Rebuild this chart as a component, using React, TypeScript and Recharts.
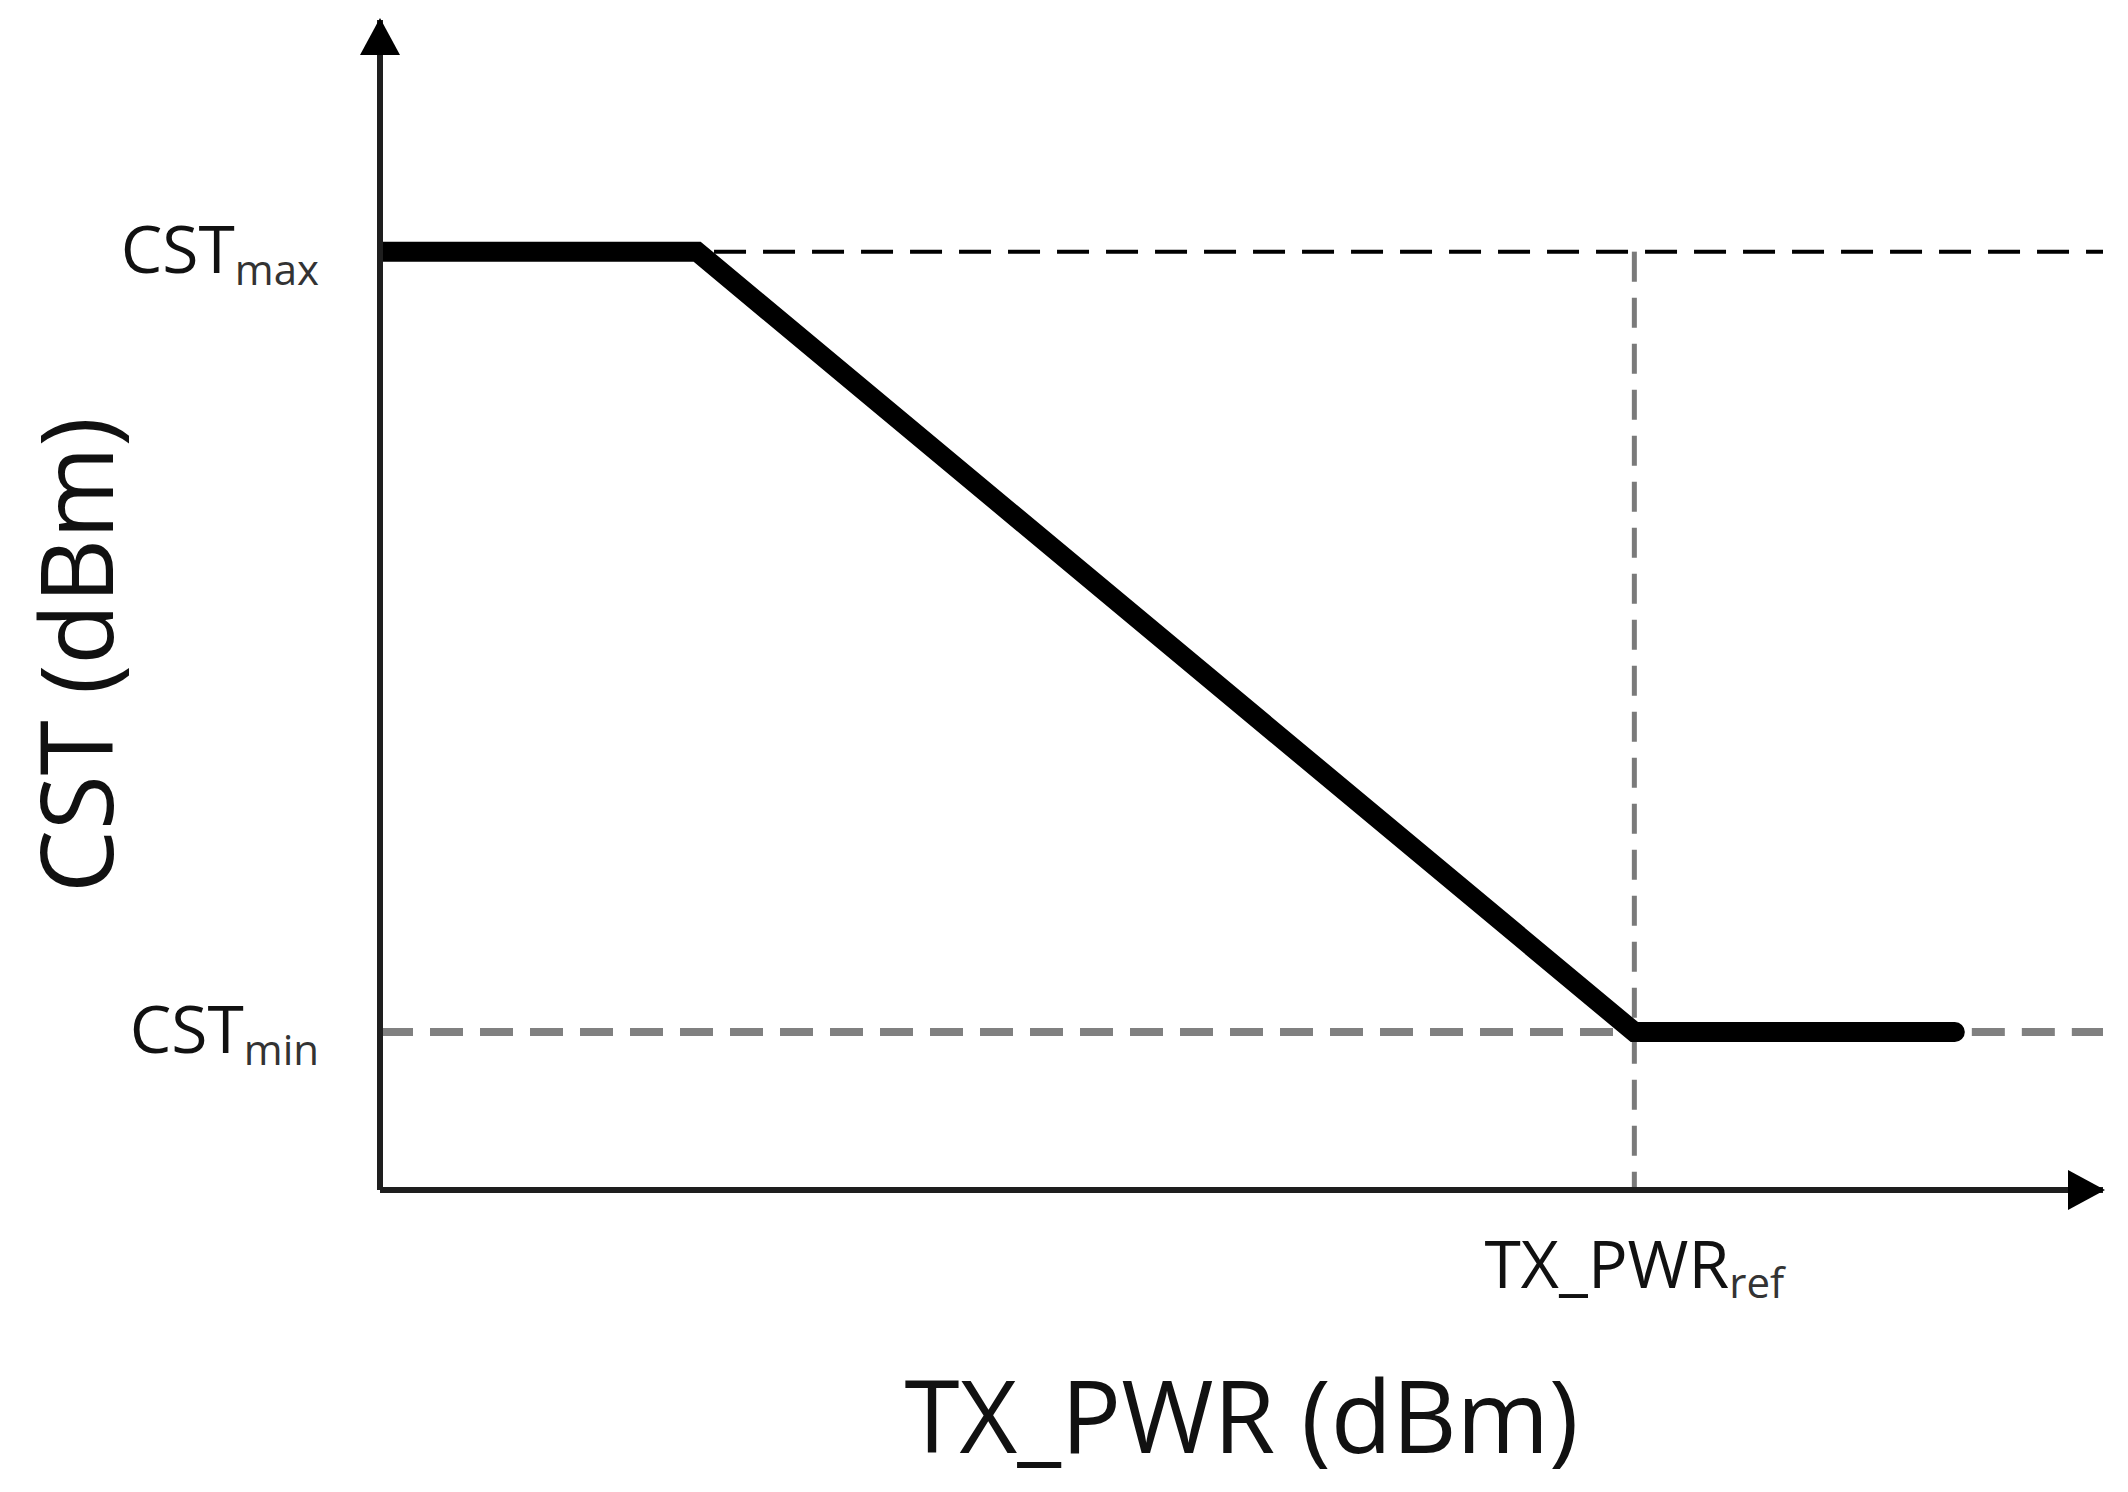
import React from 'react';
import { LineChart, Line, XAxis, YAxis, ReferenceLine, Label } from 'recharts';

// break points of the CST curve (abstract units, 0..100 on both axes)
const txPwr = [0, 18.4, 72.8, 91.4];
const cst = [80.2, 80.2, 13.5, 13.5];

const cstMax = 80.2;
const cstMin = 13.5;
const txPwrKnee = 18.4;
const txPwrRef = 72.8;
const txPwrEnd = 91.4;

const yTickValues = [cstMin, cstMax];
const yTickMain = ['CST', 'CST'];
const yTickSub = ['min', 'max'];

const xTickValues = [txPwrRef];
const xTickMain = ['TX_PWR'];
const xTickSub = ['ref'];

const xTitle = 'TX_PWR (dBm)';
const yTitle = 'CST (dBm)';

const data = txPwr.map((x, i) => ({ x, y: cst[i] }));

const FONT = '"Open Sans", "DejaVu Sans", sans-serif';
const AXIS = '#1e1e1e';

const YTick = ({ x, y, payload }: any) => {
  const i = yTickValues.indexOf(payload.value);
  if (i < 0) return null;
  return (
    <text x={x - 61} y={y + 21} textAnchor="end" fontFamily={FONT} fill="#111" fontSize={66}>
      <tspan>{yTickMain[i]}</tspan>
      <tspan fontSize={42} dy={12} fill="#333">{yTickSub[i]}</tspan>
    </text>
  );
};

const XTick = ({ x, y, payload }: any) => {
  const i = xTickValues.indexOf(payload.value);
  if (i < 0) return null;
  return (
    <text x={x} y={y + 98} textAnchor="middle" fontFamily={FONT} fill="#111" fontSize={66}>
      <tspan>{xTickMain[i]}</tspan>
      <tspan fontSize={42} dy={10} fill="#333">{xTickSub[i]}</tspan>
    </text>
  );
};

const YTitle = ({ viewBox }: any) => {
  const cx = viewBox.x + 113;
  const cy = viewBox.y + viewBox.height / 2 + 50;
  return (
    <text
      x={cx}
      y={cy}
      transform={`rotate(-90, ${cx}, ${cy})`}
      textAnchor="middle"
      fontFamily={FONT}
      fontSize={100}
      fill="#111"
    >
      {yTitle}
    </text>
  );
};

const XTitle = ({ viewBox }: any) => (
  <text
    x={viewBox.x + viewBox.width / 2}
    y={viewBox.y + 263}
    textAnchor="middle"
    fontFamily={FONT}
    fontSize={100}
    fill="#111"
  >
    {xTitle}
  </text>
);

export default function App() {
  return (
    <div style={{ position: 'absolute', left: 0, top: 0, width: 2128, height: 1492, background: '#fff' }}>
      <svg width={0} height={0} style={{ position: 'absolute' }}>
        <defs>
          <marker
            id="axisArrow"
            viewBox="0 0 37 40"
            refX={35}
            refY={20}
            markerWidth={37}
            markerHeight={40}
            markerUnits="userSpaceOnUse"
            orient="auto-start-reverse"
          >
            <path d="M0,0 L37,20 L0,40 Z" fill="#000" />
          </marker>
        </defs>
      </svg>
      <LineChart width={2128} height={1492} data={data} margin={{ top: 20, right: 25, bottom: 0, left: 0 }}>
        <XAxis
          type="number"
          dataKey="x"
          domain={[0, 100]}
          ticks={xTickValues}
          allowDataOverflow
          height={302}
          tickSize={0}
          tickMargin={0}
          tickLine={false}
          axisLine={{ stroke: AXIS, strokeWidth: 6, markerEnd: 'url(#axisArrow)' }}
          tick={<XTick />}
        >
          <Label content={<XTitle />} />
        </XAxis>
        <YAxis
          type="number"
          domain={[0, 100]}
          ticks={yTickValues}
          allowDataOverflow
          width={380}
          tickSize={0}
          tickMargin={0}
          tickLine={false}
          axisLine={{ stroke: AXIS, strokeWidth: 6, markerStart: 'url(#axisArrow)' }}
          tick={<YTick />}
        >
          <Label content={<YTitle />} />
        </YAxis>
        <ReferenceLine
          segment={[{ x: txPwrKnee, y: cstMax }, { x: 100, y: cstMax }]}
          stroke="#000"
          strokeWidth={4}
          strokeDasharray="32 17"
          strokeDashoffset={32}
        />
        <ReferenceLine
          segment={[{ x: txPwrRef, y: cstMax }, { x: txPwrRef, y: 0 }]}
          stroke="#7a7a7a"
          strokeWidth={5}
          strokeDasharray="30 16"
        />
        <ReferenceLine
          segment={[{ x: 0, y: cstMin }, { x: txPwrRef, y: cstMin }]}
          stroke="#808080"
          strokeWidth={8}
          strokeDasharray="33 17"
        />
        <ReferenceLine
          segment={[{ x: txPwrEnd, y: cstMin }, { x: 100, y: cstMin }]}
          stroke="#808080"
          strokeWidth={8}
          strokeDasharray="33 17"
          strokeDashoffset={33}
        />
        <Line
          type="linear"
          dataKey="y"
          stroke="#000"
          strokeWidth={20}
          strokeLinecap="round"
          dot={false}
          activeDot={false}
          isAnimationActive={false}
        />
      </LineChart>
    </div>
  );
}
